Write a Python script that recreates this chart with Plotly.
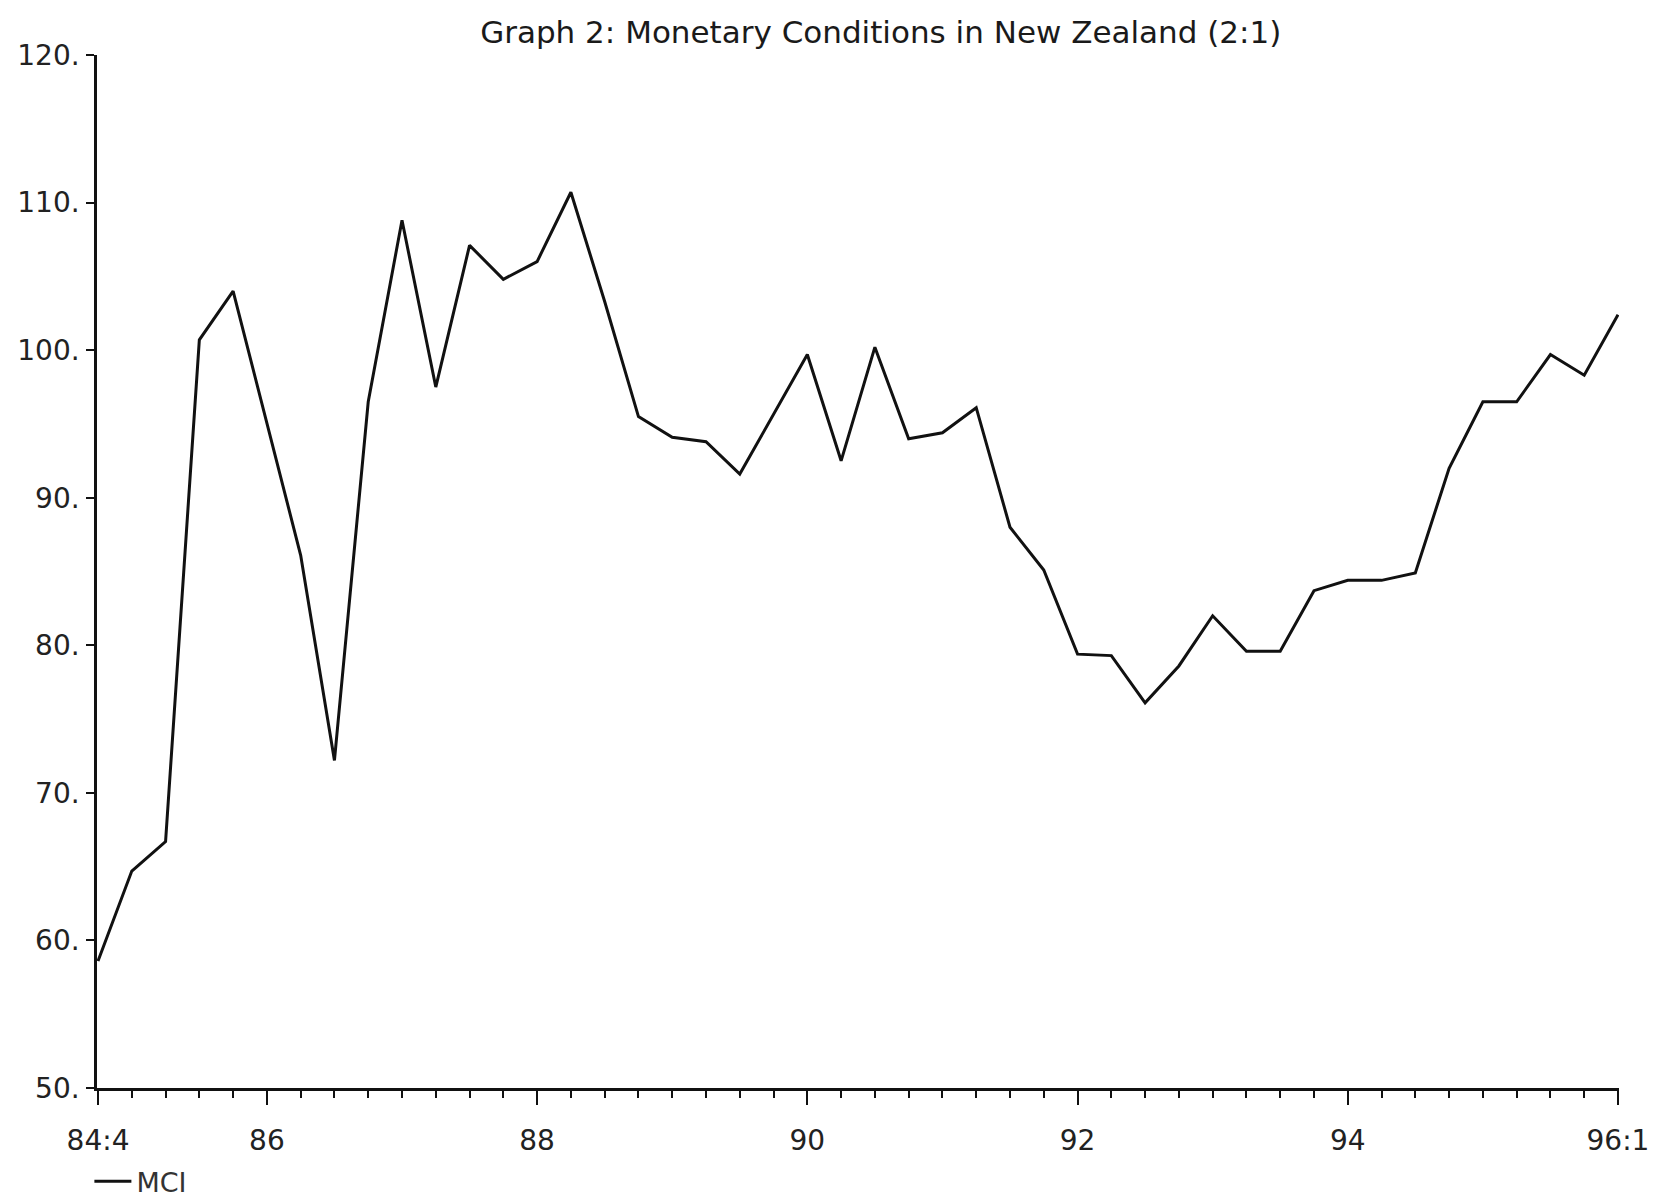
import plotly.graph_objects as go

# Quarterly observations 84:4 .. 96:1
quarters = ["84:4",
            "85:1", "85:2", "85:3", "85:4",
            "86:1", "86:2", "86:3", "86:4",
            "87:1", "87:2", "87:3", "87:4",
            "88:1", "88:2", "88:3", "88:4",
            "89:1", "89:2", "89:3", "89:4",
            "90:1", "90:2", "90:3", "90:4",
            "91:1", "91:2", "91:3", "91:4",
            "92:1", "92:2", "92:3", "92:4",
            "93:1", "93:2", "93:3", "93:4",
            "94:1", "94:2", "94:3", "94:4",
            "95:1", "95:2", "95:3", "95:4",
            "96:1"]
mci = [58.6,
       64.7, 66.7, 100.7, 104.0,
       95.1, 86.1, 72.2, 96.5,
       108.8, 97.5, 107.1, 104.8,
       106.0, 110.7, 103.3, 95.5,
       94.1, 93.8, 91.6, 95.7,
       99.7, 92.5, 100.2, 94.0,
       94.4, 96.1, 88.0, 85.1,
       79.4, 79.3, 76.1, 78.6,
       82.0, 79.6, 79.6, 83.7,
       84.4, 84.4, 84.9, 92.0,
       96.5, 96.5, 99.7, 98.3,
       102.4]

x_labels = ["84:4", "86", "88", "90", "92", "94", "96:1"]
y_ticks = [50, 60, 70, 80, 90, 100, 110, 120]
y_labels = [f"{v}." for v in y_ticks]

xi = list(range(len(quarters)))
label_set = set(x_labels)
# long ticks at the first quarter of each year (and at the ends)
major_idx = [i for i, q in enumerate(quarters) if q.endswith(":1") or i == 0]
major_text = []
for i in major_idx:
    q = quarters[i]
    short = q.split(":")[0]
    if q in label_set:
        major_text.append(q)
    elif short in label_set and q.endswith(":1"):
        major_text.append(short)
    else:
        major_text.append("")

FONT = "DejaVu Sans"

fig = go.Figure()
fig.add_trace(go.Scatter(
    x=xi, y=mci, mode="lines", name="MCI",
    line=dict(color="#111111", width=3),
))

# the page body adds an 8 px margin, so the figure is offset by 8 px
fig.update_layout(
    width=1648, height=1190,
    paper_bgcolor="white", plot_bgcolor="white",
    margin=dict(l=89, r=37, t=47, b=110, autoexpand=False),
    title=dict(text="Graph 2: Monetary Conditions in New Zealand (2:1)",
               x=0.5296, xanchor="center", y=0.9798, yanchor="middle",
               font=dict(family=FONT, size=31, color="#1a1a1a")),
    showlegend=True,
    legend=dict(x=-0.005, y=-0.067, xanchor="left", yanchor="top",
                bgcolor="rgba(0,0,0,0)",
                font=dict(family=FONT, size=27, color="#333333"),
                itemwidth=37),
)

fig.update_xaxes(
    range=[-0.03, 45.03], automargin=False,
    showgrid=False, zeroline=False,
    showline=True, linecolor="#111111", linewidth=2.5,
    tickmode="array", tickvals=major_idx, ticktext=major_text,
    ticks="outside", ticklen=14, tickwidth=2, tickcolor="#111111",
    ticklabelstandoff=12, ticklabeloverflow="allow",
    minor=dict(tickvals=xi, ticks="outside", ticklen=7, tickwidth=2,
               tickcolor="#111111", showgrid=False),
    tickfont=dict(family=FONT, size=28, color="#222222"),
)
fig.update_yaxes(
    range=[50, 120], automargin=False,
    showgrid=False, zeroline=False,
    showline=True, linecolor="#111111", linewidth=2.5,
    tickmode="array", tickvals=y_ticks, ticktext=y_labels,
    ticks="outside", ticklen=8, tickwidth=2, tickcolor="#111111",
    ticklabelstandoff=1, ticklabeloverflow="allow",
    tickfont=dict(family=FONT, size=28, color="#222222"),
)

fig.write_html("out.html")
